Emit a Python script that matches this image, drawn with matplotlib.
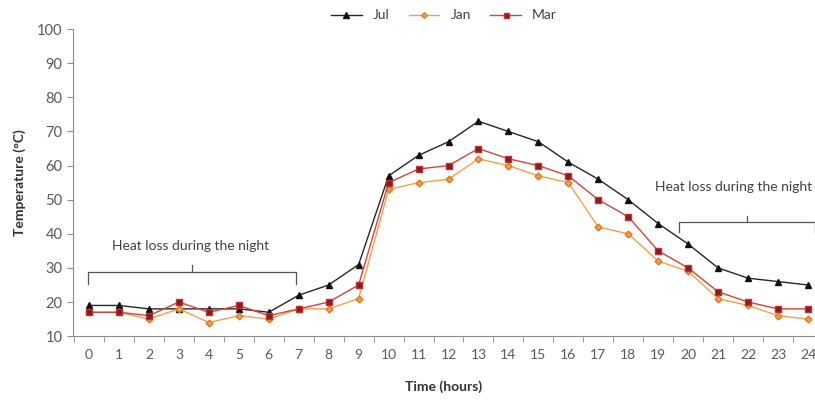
import numpy as np
import matplotlib.pyplot as plt

plt.rcParams['font.family'] = ['Lato', 'DejaVu Sans']

# Data
hours = list(range(25))
jul = [19, 19, 18, 18, 18, 18, 17, 22, 25, 31, 57, 63, 67, 73, 70, 67, 61, 56, 50, 43, 37, 30, 27, 26, 25]
jan = [17, 17, 15, 18, 14, 16, 15, 18, 18, 21, 53, 55, 56, 62, 60, 57, 55, 42, 40, 32, 29, 21, 19, 16, 15]
mar = [17, 17, 16, 20, 17, 19, 16, 18, 20, 25, 55, 59, 60, 65, 62, 60, 57, 50, 45, 35, 30, 23, 20, 18, 18]

GRAY = "#595959"
SPINE = "#8c8c8c"

fig = plt.figure(figsize=(8.15, 4.05), dpi=100)
ax = fig.add_axes([0.0896, 0.170, 0.9104, 0.758])

ax.plot(hours, jul, color="#262626", lw=1.0, marker="^", ms=5,
        mfc="#111111", mec="#111111", label="Jul")
ax.plot(hours, jan, color="#f5a04a", lw=1.0, marker="D", ms=3.5,
        mfc="#f0a050", mec="#e07a20", label="Jan")
ax.plot(hours, mar, color="#d0443a", lw=1.0, marker="s", ms=4.5,
        mfc="#8b1a1a", mec="#c03030", label="Mar")

ax.set_xlim(-0.534, 24.234)
ax.set_ylim(10, 100)
ax.set_yticks(np.arange(10, 101, 10))
ax.set_xticks(hours)
ax.set_xticks(np.arange(-0.5, 24.5, 1.0), minor=True)
ax.tick_params(axis="x", which="major", length=0, pad=9, labelsize=10, colors=GRAY)
ax.tick_params(axis="x", which="minor", length=4, color=SPINE, direction="out")
ax.tick_params(axis="y", length=4, color=SPINE, labelsize=10.5, labelcolor=GRAY)

for s in ("top", "right"):
    ax.spines[s].set_visible(False)
for s in ("left", "bottom"):
    ax.spines[s].set_color(SPINE)
    ax.spines[s].set_linewidth(0.8)

ax.set_xlabel("Time (hours)", fontsize=10, fontweight="bold", color="#333333", labelpad=14)
ax.set_ylabel("Temperature (°C)", fontsize=10, fontweight="bold", color="#333333", labelpad=8)

# brackets for night heat loss
def bracket(x0, x1, y, drop, label, ty, ha, tx):
    xm = (x0 + x1) / 2
    ax.plot([x0, x0, x1, x1], [y - drop, y, y, y - drop], color="#555555", lw=0.9)
    ax.plot([xm, xm], [y, y + drop * 0.6], color="#555555", lw=0.9)
    ax.text(tx, ty, label, ha=ha, va="center", fontsize=10, color="#404040")

bracket(-0.05, 6.9, 28.8, 3.5, "Heat loss during the night", 36.4, "center", 3.4)
bracket(19.7, 24.25, 43.5, 3.0, "Heat loss during the night", 53.7, "right", 24.15)

ax.legend(loc="upper center", bbox_to_anchor=(0.5, 1.105), ncol=3, frameon=False,
          fontsize=10, handlelength=2.2, columnspacing=1.4, markerscale=0.8,
          labelcolor="#404040")

fig.savefig("out.png", dpi=100)
